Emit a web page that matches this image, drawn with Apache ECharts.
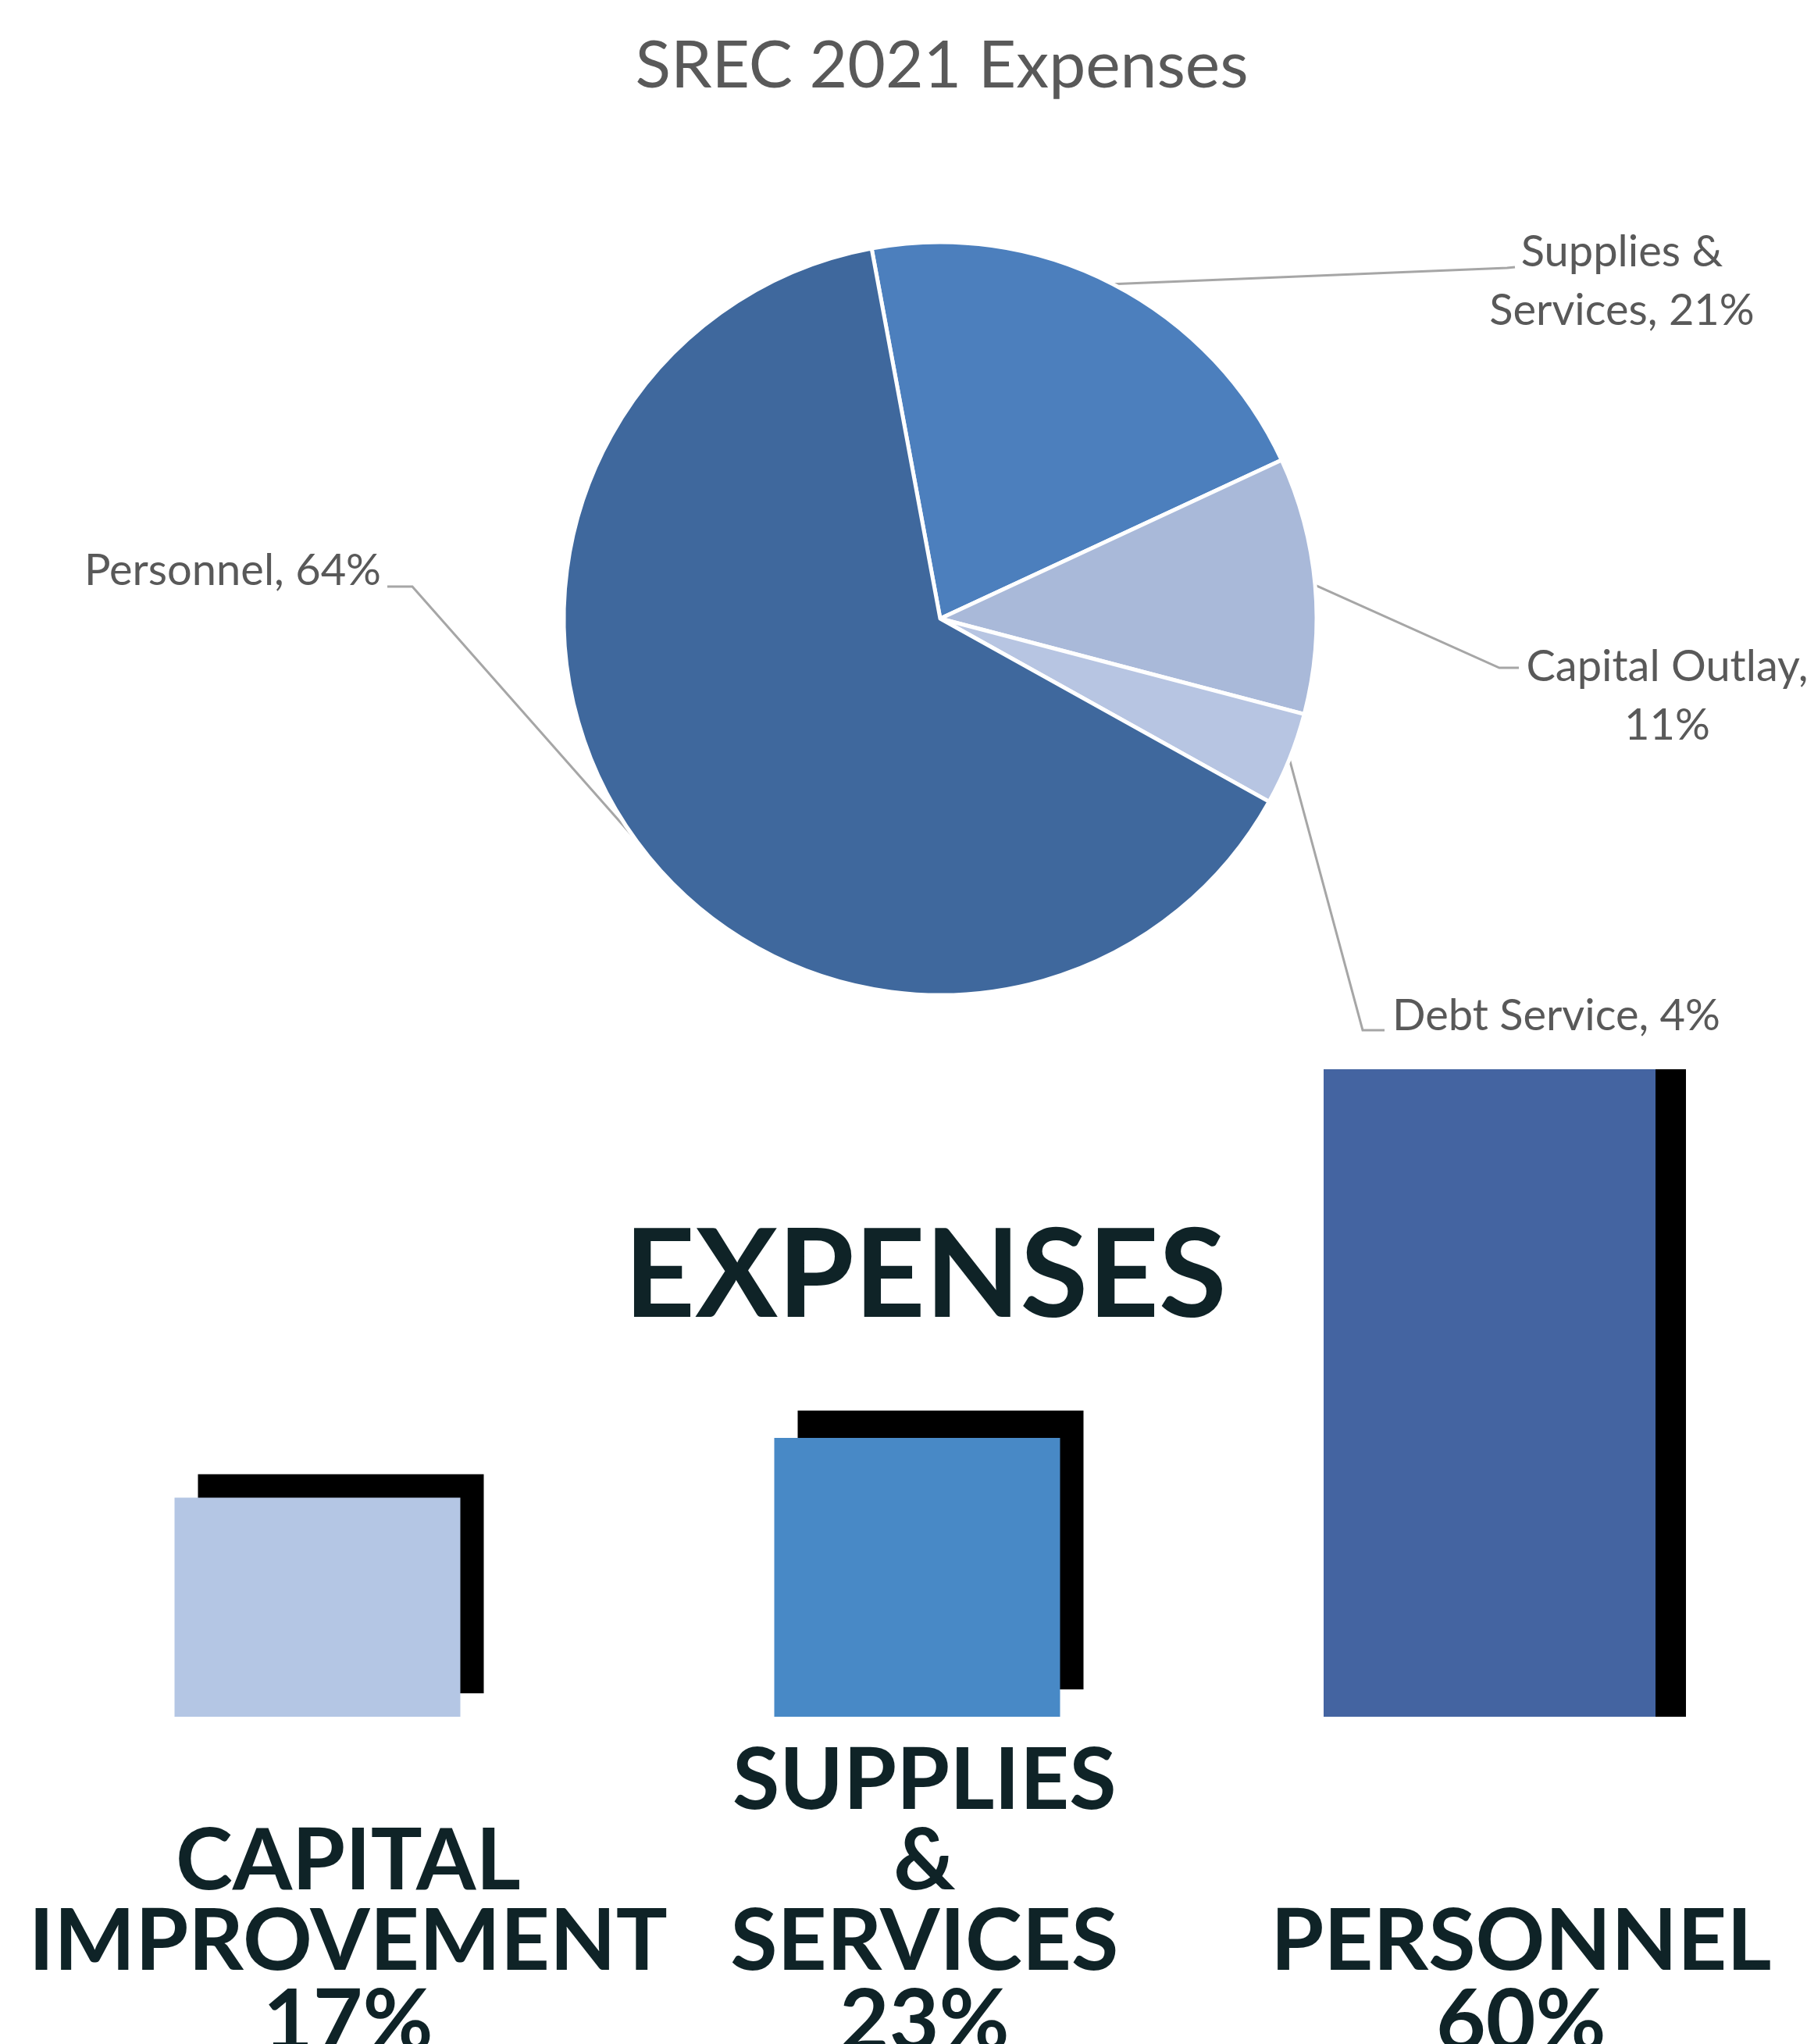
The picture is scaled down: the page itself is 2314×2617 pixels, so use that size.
<!DOCTYPE html>
<html>
<head>
<meta charset="utf-8">
<script src="https://cdn.jsdelivr.net/npm/echarts@6/dist/echarts.min.js"></script>
<style>
  html, body { margin: 0; padding: 0; background: #ffffff; }
  #chart { width: 2314px; height: 2617px; }
</style>
</head>
<body>
<div id="chart"></div>
<script>
// ---- data ----
const pieTitle = 'SREC 2021 Expenses';
const pieCategories = ['Supplies & Services', 'Capital Outlay', 'Debt Service', 'Personnel'];
const pieValues = [21, 11, 4, 64];

const barTitle = 'EXPENSES';
const barCategories = ['CAPITAL\nIMPROVEMENT', 'SUPPLIES\n&\nSERVICES', 'PERSONNEL'];
const barValues = [17, 23, 60];

// ---- styles / layout ----
const pieColors = ['#4c7fbd', '#a9b9d9', '#b7c5e2', '#3f689d'];
const barColors = ['#b4c6e4', '#4889c6', '#4464a1'];
const barShadows = [[30, -30], [30, -35], [39, 0]];
const pieLabelSpots = [
  { x: 2077, y: 360, align: 'center', bend: [1930, 343], end: [1940, 342] },
  { x: 2135, y: 891, align: 'center', bend: [1920, 855], end: [1945, 855] },
  { x: 1783, y: 1301, align: 'left', bend: [1745, 1319], end: [1773, 1319] },
  { x: 488, y: 731, align: 'right', bend: [528, 751], end: [496, 751] }
];
const catLabelPad = [84, 24, 16];

const chart = echarts.init(document.getElementById('chart'), null, { renderer: 'canvas' });

const pieData = pieCategories.map((n, i) => ({
  name: n, value: pieValues[i], itemStyle: { color: pieColors[i] }
}));

function barItem(i) {
  return {
    value: barValues[i],
    itemStyle: {
      color: barColors[i],
      shadowColor: '#000000',
      shadowBlur: 0,
      shadowOffsetX: barShadows[i][0],
      shadowOffsetY: barShadows[i][1]
    }
  };
}

const rich = {};
catLabelPad.forEach((p, i) => {
  rich['c' + i] = {
    fontFamily: 'Lato', fontWeight: 'bold', fontSize: 110, lineHeight: 103,
    color: '#0f2327', padding: [0, 0, 0, p]
  };
});

const option = {
  backgroundColor: '#ffffff',
  animation: false,
  title: [
    {
      text: pieTitle, left: 1206, top: 43, textAlign: 'center', padding: 0,
      textStyle: { fontFamily: 'Lato', fontWeight: 'normal', fontSize: 84, color: '#595959' }
    },
    {
      text: barTitle, left: 1185, top: 1556, textAlign: 'center', padding: 0,
      textStyle: { fontFamily: 'Lato', fontWeight: 'bold', fontSize: 158, color: '#0f2327' }
    }
  ],
  grid: { left: 19.75, width: 2304, top: 1369, height: 829, containLabel: false, outerBoundsMode: 'none' },
  xAxis: {
    type: 'category',
    data: barCategories,
    axisLine: { show: false, onZero: false },
    axisTick: { show: false },
    splitLine: { show: false },
    axisLabel: {
      interval: 0,
      margin: 443,
      verticalAlign: 'bottom',
      formatter: (name, idx) => '{c' + idx + '|' + name + '\n' + barValues[idx] + '%}',
      rich: rich
    }
  },
  yAxis: {
    type: 'value', min: -5, max: 60, startValue: -5, show: false,
    splitLine: { show: false }
  },
  series: [
    {
      type: 'pie',
      center: [1204, 792],
      radius: 482,
      startAngle: 100.5,
      clockwise: true,
      avoidLabelOverlap: false,
      data: pieData,
      itemStyle: { borderColor: '#ffffff', borderWidth: 5 },
      label: {
        show: true,
        fontFamily: 'Lato', fontSize: 56, lineHeight: 75, color: '#595959',
        formatter: (p) => {
          const s = p.name + ', ' + p.value + '%';
          if (p.dataIndex === 0) return s.replace(' & ', ' &\n');
          if (p.dataIndex === 1) return s.replace(', ', ',\n');
          return s;
        }
      },
      labelLine: { show: true, lineStyle: { color: '#a6a6a6', width: 3 } },
      labelLayout: (params) => {
        const spot = pieLabelSpots[params.dataIndex];
        const p0 = params.labelLinePoints ? params.labelLinePoints[0] : spot.bend;
        return {
          x: spot.x, y: spot.y, align: spot.align, verticalAlign: 'middle',
          labelLinePoints: [p0, spot.bend, spot.end]
        };
      }
    },
    {
      type: 'bar',
      barWidth: 366,
      barGap: '-117.62%',
      data: [barItem(0), barItem(1), '-']
    },
    {
      type: 'bar',
      barWidth: 425,
      barGap: '-117.62%',
      data: ['-', '-', barItem(2)]
    }
  ]
};

chart.setOption(option);
</script>
</body>
</html>
